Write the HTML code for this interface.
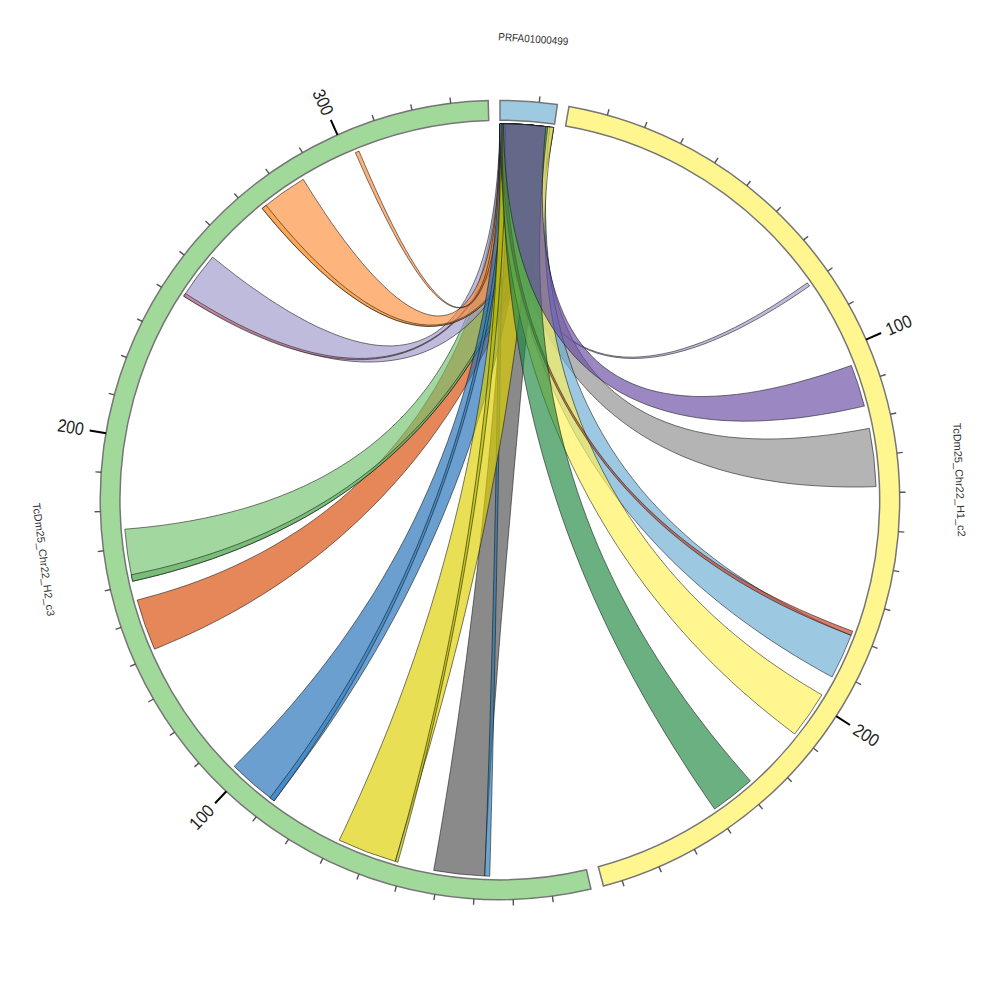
<!DOCTYPE html><html><head><meta charset="utf-8"><title>Circos plot</title><style>html,body{margin:0;padding:0;background:#fff;overflow:hidden;}svg{display:block;}text{font-family:"Liberation Sans","DejaVu Sans",sans-serif;}</style></head><body>
<svg width="1000" height="1000" viewBox="0 0 1000 1000">
<rect width="1000" height="1000" fill="#fff"/>
<g stroke-linejoin="round">
<path d="M500.0,123.7 A376.3,376.3 0 0 1 549.8,127.0 L549.0,132.9 548.1,140.0 547.1,148.3 545.8,157.7 544.2,168.0 542.3,179.2 540.0,191.2 537.3,204.0 534.2,217.3 530.6,231.2 526.6,245.5 522.1,260.2 517.0,275.3 511.5,290.6 505.4,306.1 498.7,321.7 491.5,337.4 483.8,353.1 475.5,368.8 466.7,384.3 457.4,399.7 447.6,414.8 437.3,429.8 426.6,444.4 415.4,458.8 403.8,472.7 391.9,486.3 379.6,499.4 367.0,512.1 354.2,524.3 341.2,536.0 328.1,547.2 314.9,557.8 301.6,567.9 288.4,577.4 275.3,586.4 262.3,594.7 249.6,602.5 237.2,609.7 225.2,616.3 213.7,622.3 202.8,627.8 192.5,632.7 183.0,637.0 174.3,640.8 166.6,644.1 160.0,646.9 154.5,649.2 A376.3,376.3 0 0 1 137.2,600.1 L143.0,598.5 149.9,596.6 157.9,594.4 166.9,591.7 176.7,588.6 187.3,585.1 198.5,581.0 210.2,576.5 222.4,571.4 235.0,565.8 247.8,559.6 260.9,552.9 274.0,545.6 287.1,537.7 300.3,529.3 313.3,520.3 326.1,510.7 338.8,500.6 351.1,489.9 363.1,478.7 374.8,467.1 386.0,454.9 396.8,442.3 407.2,429.3 417.0,415.9 426.2,402.1 435.0,388.1 443.1,373.7 450.7,359.1 457.7,344.4 464.1,329.5 469.9,314.6 475.1,299.7 479.8,284.8 483.9,270.0 487.4,255.4 490.4,241.1 493.0,227.1 495.0,213.5 496.7,200.3 497.9,187.8 498.9,175.9 499.5,164.8 499.8,154.5 500.0,145.1 500.0,136.8 500.0,129.6 500.0,123.7 Z" fill="#da4b08" fill-opacity="0.667" stroke="#111" stroke-opacity="0.85" stroke-width="0.65"/>
<path d="M500.0,123.7 A376.3,376.3 0 0 1 553.7,127.5 L551.6,141.0 549.3,154.5 546.7,168.0 543.9,181.5 540.7,195.0 537.3,208.5 533.5,221.9 529.5,235.2 525.1,248.5 520.5,261.6 515.5,274.6 510.2,287.5 504.5,300.3 498.5,312.8 492.2,325.2 485.6,337.4 478.6,349.4 471.3,361.1 463.7,372.6 455.8,383.9 447.5,395.0 438.9,405.7 430.0,416.2 420.8,426.5 411.3,436.4 401.4,446.1 391.3,455.5 380.9,464.5 370.3,473.3 359.4,481.8 348.2,489.9 336.8,497.7 325.1,505.3 313.2,512.5 301.1,519.4 288.9,525.9 276.4,532.2 263.8,538.2 251.1,543.8 238.2,549.1 225.2,554.1 212.1,558.9 198.9,563.3 185.7,567.4 172.4,571.3 159.1,574.9 145.8,578.2 132.6,581.3 A376.3,376.3 0 0 1 124.8,529.2 L138.3,528.0 151.9,526.6 165.3,524.9 178.8,522.9 192.1,520.6 205.4,518.0 218.5,515.1 231.5,511.9 244.3,508.4 257.0,504.5 269.4,500.3 281.6,495.7 293.6,490.8 305.3,485.5 316.8,479.9 328.0,473.9 338.9,467.5 349.5,460.8 359.7,453.7 369.7,446.3 379.2,438.5 388.5,430.3 397.4,421.8 405.9,413.0 414.1,403.8 421.9,394.2 429.3,384.4 436.3,374.2 443.0,363.7 449.2,353.0 455.1,341.9 460.6,330.5 465.7,318.9 470.4,307.1 474.8,295.0 478.8,282.6 482.4,270.1 485.6,257.4 488.5,244.5 491.1,231.4 493.3,218.2 495.1,204.9 496.7,191.5 497.9,178.0 498.8,164.4 499.5,150.8 499.9,137.3 500.0,123.7 Z" fill="#75c371" fill-opacity="0.667" stroke="#111" stroke-opacity="0.85" stroke-width="0.65"/>
<path d="M549.8,127.0 A376.3,376.3 0 0 1 553.7,127.5 L551.6,141.0 549.3,154.5 546.7,168.0 543.9,181.5 540.7,195.0 537.3,208.5 533.5,221.9 529.5,235.2 525.1,248.5 520.5,261.6 515.5,274.6 510.2,287.5 504.5,300.3 498.5,312.8 492.2,325.2 485.6,337.4 478.6,349.4 471.3,361.1 463.7,372.6 455.8,383.9 447.5,395.0 438.9,405.7 430.0,416.2 420.8,426.5 411.3,436.4 401.4,446.1 391.3,455.5 380.9,464.5 370.3,473.3 359.4,481.8 348.2,489.9 336.8,497.7 325.1,505.3 313.2,512.5 301.1,519.4 288.9,525.9 276.4,532.2 263.8,538.2 251.1,543.8 238.2,549.1 225.2,554.1 212.1,558.9 198.9,563.3 185.7,567.4 172.4,571.3 159.1,574.9 145.8,578.2 132.6,581.3 A376.3,376.3 0 0 1 131.2,574.8 L144.5,571.9 157.8,568.9 171.2,565.5 184.5,561.9 197.7,558.0 210.9,553.8 224.1,549.3 237.1,544.5 250.0,539.4 262.8,534.0 275.4,528.2 287.9,522.2 300.2,515.8 312.2,509.1 324.1,502.1 335.8,494.8 347.2,487.1 358.3,479.1 369.2,470.8 379.9,462.2 390.2,453.3 400.3,444.1 410.0,434.6 419.5,424.8 428.7,414.7 437.5,404.3 446.0,393.6 454.2,382.7 462.1,371.5 469.6,360.1 476.8,348.4 483.7,336.5 490.2,324.4 496.4,312.1 502.3,299.6 507.8,286.9 513.0,274.0 517.9,261.1 522.5,247.9 526.7,234.7 530.6,221.4 534.2,208.0 537.5,194.5 540.5,181.0 543.2,167.5 545.7,154.0 547.9,140.5 549.8,127.0 Z" fill="#63b165" fill-opacity="0.667" stroke="#111" stroke-opacity="0.85" stroke-width="0.65"/>
<path d="M500.0,123.7 A376.3,376.3 0 0 1 553.7,127.5 L551.1,142.3 548.2,156.5 545.2,170.3 542.0,183.5 538.5,196.3 534.8,208.7 530.9,220.5 526.8,231.9 522.4,242.8 517.9,253.2 513.1,263.2 508.1,272.6 502.9,281.6 497.5,290.1 491.8,298.2 485.9,305.7 479.9,312.8 473.6,319.4 467.1,325.6 460.3,331.2 453.4,336.4 446.2,341.1 438.8,345.3 431.2,349.1 423.4,352.4 415.4,355.2 407.1,357.5 398.7,359.3 390.0,360.7 381.1,361.6 372.0,362.0 362.6,362.0 353.1,361.4 343.3,360.4 333.3,358.9 323.1,356.9 312.7,354.5 302.0,351.6 291.2,348.2 280.1,344.3 268.8,340.0 257.3,335.1 245.6,329.8 233.6,324.0 221.5,317.8 209.1,311.1 196.5,303.8 183.7,296.2 A376.3,376.3 0 0 1 212.6,257.1 L224.2,266.4 235.5,275.2 246.6,283.5 257.5,291.2 268.2,298.5 278.6,305.2 288.7,311.4 298.7,317.1 308.3,322.3 317.8,327.0 327.0,331.1 336.0,334.8 344.7,337.9 353.2,340.5 361.4,342.6 369.5,344.2 377.2,345.3 384.8,345.8 392.1,345.9 399.1,345.4 406.0,344.4 412.5,342.9 418.9,340.9 425.0,338.4 430.9,335.4 436.5,331.8 441.9,327.7 447.0,323.2 451.9,318.1 456.6,312.5 461.1,306.4 465.3,299.7 469.2,292.6 472.9,284.9 476.4,276.7 479.7,268.0 482.7,258.8 485.4,249.1 488.0,238.9 490.3,228.2 492.3,216.9 494.1,205.1 495.7,192.8 497.0,180.0 498.1,166.7 499.0,152.9 499.6,138.6 500.0,123.7 Z" fill="#9e99cb" fill-opacity="0.667" stroke="#111" stroke-opacity="0.85" stroke-width="0.65"/>
<path d="M522.1,124.3 A376.3,376.3 0 0 1 524.7,124.5 L524.0,133.8 523.1,143.6 522.0,153.9 520.7,164.5 519.1,175.3 517.3,186.4 515.1,197.5 512.6,208.6 509.7,219.7 506.5,230.7 503.0,241.6 499.1,252.2 494.8,262.5 490.1,272.4 485.0,282.0 479.5,291.2 473.7,299.9 467.4,308.1 460.8,315.8 453.8,322.9 446.4,329.4 438.7,335.3 430.6,340.6 422.1,345.3 413.4,349.3 404.3,352.7 394.9,355.4 385.3,357.4 375.4,358.8 365.3,359.6 355.0,359.7 344.5,359.2 333.9,358.1 323.1,356.5 312.3,354.3 301.5,351.6 290.6,348.5 279.8,344.9 269.1,340.9 258.5,336.5 248.0,331.9 237.8,327.0 227.8,322.0 218.2,316.8 208.9,311.5 200.0,306.3 191.6,301.2 183.7,296.2 A376.3,376.3 0 0 1 185.5,293.4 L193.3,298.5 201.7,303.7 210.5,309.0 219.8,314.3 229.4,319.6 239.3,324.8 249.4,329.7 259.8,334.4 270.3,338.9 281.0,342.9 291.7,346.6 302.5,349.9 313.2,352.7 323.9,354.9 334.6,356.7 345.1,357.8 355.5,358.4 365.7,358.4 375.7,357.7 385.5,356.4 395.0,354.4 404.3,351.8 413.3,348.5 421.9,344.5 430.2,339.9 438.2,334.7 445.9,328.8 453.1,322.4 460.0,315.3 466.6,307.7 472.7,299.5 478.4,290.9 483.8,281.7 488.7,272.2 493.3,262.2 497.5,251.9 501.3,241.3 504.8,230.5 507.9,219.6 510.6,208.5 513.0,197.3 515.1,186.2 516.9,175.2 518.4,164.3 519.6,153.7 520.6,143.5 521.4,133.7 522.1,124.3 Z" fill="#c57189" fill-opacity="0.667" stroke="#111" stroke-opacity="0.85" stroke-width="0.65"/>
<path d="M500.0,123.7 A376.3,376.3 0 0 1 549.8,127.0 L548.4,136.9 546.8,147.2 545.0,157.7 543.0,168.4 540.8,179.2 538.4,190.0 535.7,200.8 532.7,211.4 529.5,221.9 526.0,232.1 522.3,242.0 518.3,251.6 514.0,260.7 509.5,269.4 504.7,277.6 499.7,285.3 494.3,292.3 488.7,298.8 482.9,304.6 476.8,309.8 470.4,314.3 463.9,318.1 457.1,321.2 450.1,323.6 442.8,325.2 435.4,326.1 427.8,326.4 420.1,325.8 412.2,324.6 404.1,322.7 396.0,320.2 387.7,316.9 379.4,313.1 371.0,308.6 362.6,303.6 354.2,298.0 345.8,292.0 337.4,285.5 329.1,278.6 320.9,271.4 312.8,263.9 304.9,256.1 297.1,248.2 289.5,240.1 282.2,232.1 275.2,224.0 268.5,216.1 262.1,208.4 A376.3,376.3 0 0 1 303.2,179.3 L308.5,187.7 314.0,196.5 319.8,205.3 325.7,214.3 331.8,223.2 338.1,232.0 344.5,240.7 351.0,249.2 357.5,257.3 364.0,265.2 370.6,272.6 377.2,279.5 383.7,286.0 390.1,291.9 396.5,297.3 402.8,302.0 408.9,306.1 415.0,309.5 420.9,312.2 426.6,314.2 432.2,315.5 437.5,316.0 442.7,315.7 447.7,314.7 452.5,313.0 457.0,310.5 461.3,307.2 465.4,303.2 469.2,298.5 472.8,293.2 476.2,287.1 479.3,280.4 482.2,273.1 484.9,265.2 487.3,256.8 489.4,247.8 491.4,238.5 493.1,228.7 494.6,218.6 495.9,208.3 496.9,197.7 497.8,186.9 498.6,176.1 499.1,165.3 499.5,154.6 499.8,144.0 500.0,133.7 500.0,123.7 Z" fill="#fc8f3c" fill-opacity="0.667" stroke="#111" stroke-opacity="0.85" stroke-width="0.65"/>
<path d="M545.9,126.5 A376.3,376.3 0 0 1 549.8,127.0 L548.4,136.9 546.8,147.2 545.0,157.7 543.0,168.4 540.8,179.2 538.4,190.0 535.7,200.8 532.7,211.4 529.5,221.9 526.0,232.1 522.3,242.0 518.3,251.6 514.0,260.7 509.5,269.4 504.7,277.6 499.7,285.3 494.3,292.3 488.7,298.8 482.9,304.6 476.8,309.8 470.4,314.3 463.9,318.1 457.1,321.2 450.1,323.6 442.8,325.2 435.4,326.1 427.8,326.4 420.1,325.8 412.2,324.6 404.1,322.7 396.0,320.2 387.7,316.9 379.4,313.1 371.0,308.6 362.6,303.6 354.2,298.0 345.8,292.0 337.4,285.5 329.1,278.6 320.9,271.4 312.8,263.9 304.9,256.1 297.1,248.2 289.5,240.1 282.2,232.1 275.2,224.0 268.5,216.1 262.1,208.4 A376.3,376.3 0 0 1 266.1,205.2 L272.4,213.0 279.0,221.0 285.9,229.1 293.1,237.3 300.5,245.4 308.1,253.5 315.9,261.3 323.8,268.9 331.9,276.3 340.0,283.3 348.2,289.9 356.5,296.0 364.7,301.7 373.0,306.8 381.2,311.3 389.3,315.3 397.4,318.6 405.3,321.3 413.2,323.2 420.9,324.5 428.4,325.1 435.8,325.0 443.0,324.1 450.1,322.6 456.9,320.2 463.5,317.2 469.9,313.5 476.0,309.0 481.9,303.9 487.6,298.1 493.0,291.7 498.1,284.7 503.0,277.0 507.6,268.9 512.0,260.2 516.1,251.1 519.9,241.6 523.5,231.7 526.8,221.4 529.8,211.0 532.6,200.3 535.2,189.6 537.5,178.7 539.6,167.9 541.5,157.2 543.1,146.7 544.6,136.4 545.9,126.5 Z" fill="#fea141" fill-opacity="0.667" stroke="#111" stroke-opacity="0.85" stroke-width="0.65"/>
<path d="M500.0,123.7 A376.3,376.3 0 0 1 503.9,123.7 L503.5,138.1 503.0,152.0 502.4,165.2 501.6,177.9 500.8,190.0 499.8,201.5 498.7,212.4 497.5,222.7 496.2,232.4 494.7,241.5 493.2,250.1 491.5,258.0 489.7,265.4 487.8,272.2 485.8,278.4 483.7,284.0 481.5,289.0 479.1,293.4 476.6,297.3 474.1,300.5 471.4,303.2 468.6,305.2 465.6,306.7 462.6,307.6 459.5,307.9 456.2,307.6 452.8,306.8 449.3,305.3 445.7,303.3 442.0,300.6 438.1,297.4 434.2,293.6 430.1,289.2 425.9,284.2 421.6,278.6 417.2,272.5 412.7,265.7 408.1,258.4 403.3,250.4 398.4,241.9 393.5,232.8 388.4,223.1 383.2,212.8 377.8,202.0 372.4,190.5 366.8,178.5 361.2,165.8 355.4,152.6 A376.3,376.3 0 0 1 359.0,151.1 L364.7,164.4 370.2,177.1 375.6,189.2 380.9,200.7 386.0,211.6 391.1,222.0 396.0,231.7 400.9,240.9 405.6,249.4 410.2,257.4 414.7,264.8 419.0,271.6 423.3,277.8 427.4,283.4 431.5,288.5 435.4,292.9 439.2,296.7 442.8,300.0 446.4,302.7 449.9,304.8 453.2,306.3 456.4,307.2 459.5,307.5 462.5,307.2 465.4,306.3 468.2,304.9 470.8,302.8 473.4,300.2 475.8,297.0 478.1,293.2 480.3,288.8 482.3,283.8 484.3,278.2 486.2,272.0 487.9,265.2 489.5,257.9 491.0,250.0 492.4,241.4 493.7,232.3 494.8,222.6 495.9,212.3 496.8,201.4 497.6,189.9 498.3,177.9 498.9,165.2 499.4,152.0 499.8,138.1 500.0,123.7 Z" fill="#fc8c38" fill-opacity="0.667" stroke="#111" stroke-opacity="0.85" stroke-width="0.65"/>
<path d="M500.0,123.7 A376.3,376.3 0 0 1 532.8,125.1 L531.8,135.9 530.8,147.4 529.7,159.3 528.4,171.8 527.0,184.9 525.5,198.3 523.7,212.2 521.8,226.5 519.6,241.2 517.2,256.1 514.6,271.4 511.7,286.9 508.6,302.7 505.2,318.7 501.6,334.8 497.6,351.1 493.4,367.5 488.9,384.0 484.1,400.5 479.0,417.1 473.7,433.7 468.1,450.2 462.2,466.7 456.0,483.2 449.6,499.5 443.0,515.7 436.1,531.8 429.0,547.7 421.7,563.4 414.2,578.9 406.6,594.2 398.8,609.2 390.8,624.0 382.8,638.4 374.7,652.6 366.5,666.4 358.2,679.9 350.0,693.0 341.7,705.8 333.6,718.1 325.5,730.0 317.5,741.6 309.7,752.6 302.0,763.2 294.6,773.4 287.4,783.1 280.6,792.2 274.1,800.9 A376.3,376.3 0 0 1 234.2,766.4 L241.8,758.7 249.8,750.5 258.1,741.9 266.6,732.8 275.4,723.2 284.3,713.3 293.3,702.9 302.5,692.0 311.6,680.8 320.8,669.2 330.0,657.2 339.2,644.8 348.2,632.0 357.1,619.0 365.9,605.6 374.6,591.9 383.0,577.8 391.2,563.6 399.3,549.0 407.0,534.3 414.5,519.3 421.7,504.1 428.6,488.7 435.2,473.2 441.5,457.6 447.5,441.8 453.1,426.0 458.4,410.1 463.3,394.1 467.9,378.2 472.2,362.3 476.1,346.4 479.7,330.6 482.9,314.9 485.8,299.3 488.4,283.9 490.7,268.7 492.7,253.7 494.4,239.0 495.8,224.5 497.0,210.4 498.0,196.7 498.7,183.3 499.2,170.4 499.6,157.9 499.8,146.0 500.0,134.5 500.0,123.7 Z" fill="#206fb7" fill-opacity="0.667" stroke="#111" stroke-opacity="0.85" stroke-width="0.65"/>
<path d="M505.7,123.7 A376.3,376.3 0 0 1 509.9,123.8 L509.6,133.6 509.2,144.1 508.7,155.3 508.0,167.1 507.2,179.5 506.2,192.5 505.0,206.1 503.5,220.0 501.9,234.5 500.0,249.3 497.9,264.6 495.5,280.1 492.8,296.0 489.8,312.1 486.6,328.5 483.1,345.1 479.2,361.8 475.1,378.7 470.8,395.6 466.1,412.6 461.1,429.7 455.9,446.7 450.4,463.8 444.6,480.7 438.6,497.6 432.3,514.4 425.9,531.0 419.1,547.4 412.2,563.7 405.1,579.7 397.9,595.4 390.5,610.9 383.0,626.1 375.3,640.9 367.6,655.4 359.9,669.5 352.1,683.2 344.3,696.4 336.6,709.3 328.9,721.6 321.3,733.5 313.9,744.8 306.6,755.6 299.5,765.8 292.7,775.5 286.1,784.6 279.9,793.1 274.1,800.9 A376.3,376.3 0 0 1 269.9,797.8 L275.9,790.0 282.2,781.6 288.9,772.6 295.8,763.1 303.0,752.9 310.4,742.2 318.0,731.0 325.7,719.2 333.5,707.0 341.3,694.3 349.2,681.1 357.1,667.5 365.0,653.5 372.8,639.1 380.5,624.4 388.1,609.3 395.5,594.0 402.9,578.3 410.0,562.4 417.0,546.3 423.7,529.9 430.2,513.4 436.5,496.7 442.5,479.9 448.3,463.0 453.8,446.0 459.0,429.1 463.9,412.1 468.5,395.1 472.9,378.2 476.9,361.4 480.6,344.7 484.1,328.2 487.2,311.9 490.1,295.8 492.7,279.9 495.0,264.4 497.0,249.2 498.8,234.4 500.3,219.9 501.6,205.9 502.7,192.4 503.6,179.5 504.3,167.0 504.9,155.2 505.3,144.0 505.5,133.5 505.7,123.7 Z" fill="#3583c5" fill-opacity="0.667" stroke="#111" stroke-opacity="0.85" stroke-width="0.65"/>
<path d="M509.9,123.8 A376.3,376.3 0 0 1 549.8,127.0 L547.4,144.8 545.2,162.3 543.1,179.5 541.1,196.4 539.1,213.2 537.3,229.7 535.5,245.9 533.8,262.0 532.1,277.9 530.5,293.6 528.9,309.1 527.4,324.5 526.0,339.7 524.5,354.8 523.1,369.8 521.8,384.6 520.4,399.4 519.1,414.1 517.8,428.7 516.5,443.2 515.2,457.7 513.9,472.1 512.7,486.6 511.4,501.0 510.2,515.4 508.9,529.8 507.7,544.3 506.4,558.8 505.2,573.3 504.0,587.9 502.8,602.6 501.5,617.4 500.3,632.3 499.1,647.3 497.9,662.4 496.8,677.6 495.6,693.0 494.4,708.6 493.3,724.3 492.2,740.2 491.1,756.4 490.1,772.7 489.1,789.3 488.1,806.1 487.2,823.2 486.3,840.5 485.5,858.1 484.7,876.0 A376.3,376.3 0 0 1 433.7,870.4 L436.8,852.8 439.8,835.4 442.7,818.3 445.4,801.4 448.1,784.8 450.7,768.4 453.1,752.3 455.5,736.3 457.8,720.5 460.0,704.9 462.2,689.5 464.2,674.2 466.3,659.0 468.2,644.0 470.1,629.1 471.9,614.4 473.7,599.7 475.4,585.1 477.1,570.5 478.7,556.0 480.3,541.6 481.9,527.2 483.4,512.8 484.9,498.5 486.3,484.1 487.8,469.7 489.1,455.3 490.5,440.8 491.8,426.3 493.1,411.7 494.4,397.1 495.6,382.3 496.8,367.5 497.9,352.5 499.1,337.4 500.2,322.2 501.2,306.8 502.2,291.3 503.2,275.5 504.1,259.6 505.0,243.5 505.9,227.1 506.7,210.6 507.4,193.8 508.1,176.7 508.8,159.4 509.3,141.7 509.9,123.8 Z" fill="#505050" fill-opacity="0.667" stroke="#111" stroke-opacity="0.85" stroke-width="0.65"/>
<path d="M500.0,123.7 A376.3,376.3 0 0 1 503.3,123.7 L503.2,133.5 503.1,144.1 503.0,155.3 502.9,167.3 502.7,179.9 502.6,193.1 502.4,206.9 502.2,221.3 502.0,236.2 501.8,251.5 501.6,267.4 501.4,283.6 501.2,300.3 500.9,317.3 500.7,334.6 500.4,352.3 500.1,370.1 499.9,388.3 499.6,406.6 499.3,425.1 498.9,443.7 498.6,462.4 498.3,481.2 498.0,500.0 497.6,518.8 497.3,537.5 496.9,556.2 496.6,574.9 496.2,593.3 495.8,611.7 495.5,629.8 495.1,647.7 494.7,665.3 494.4,682.6 494.0,699.6 493.6,716.3 493.3,732.5 492.9,748.4 492.6,763.7 492.2,778.6 491.9,793.0 491.5,806.8 491.2,820.0 490.9,832.6 490.6,844.6 490.3,855.8 490.0,866.4 489.8,876.2 A376.3,376.3 0 0 1 484.7,876.0 L485.1,866.2 485.5,855.7 485.9,844.4 486.4,832.5 486.8,819.9 487.3,806.7 487.7,792.9 488.2,778.5 488.7,763.6 489.2,748.3 489.7,732.4 490.2,716.2 490.6,699.5 491.1,682.5 491.6,665.2 492.1,647.6 492.5,629.7 493.0,611.6 493.4,593.3 493.9,574.8 494.3,556.2 494.7,537.5 495.1,518.7 495.5,499.9 495.9,481.1 496.2,462.3 496.6,443.6 496.9,425.0 497.2,406.5 497.5,388.2 497.8,370.1 498.1,352.2 498.3,334.6 498.5,317.3 498.8,300.3 499.0,283.6 499.1,267.3 499.3,251.5 499.4,236.1 499.6,221.3 499.7,206.9 499.8,193.1 499.8,179.9 499.9,167.3 499.9,155.3 500.0,144.0 500.0,133.5 500.0,123.7 Z" fill="#2678b4" fill-opacity="0.667" stroke="#111" stroke-opacity="0.85" stroke-width="0.65"/>
<path d="M502.0,123.7 A376.3,376.3 0 0 1 539.3,125.8 L538.2,136.6 537.1,148.0 536.0,160.0 534.8,172.6 533.6,185.7 532.3,199.3 530.9,213.4 529.4,227.9 527.9,242.9 526.3,258.2 524.5,273.9 522.6,290.0 520.6,306.3 518.5,322.9 516.3,339.8 513.9,356.8 511.4,374.1 508.7,391.5 506.0,409.1 503.1,426.8 500.0,444.5 496.8,462.4 493.5,480.2 490.1,498.1 486.5,515.9 482.9,533.7 479.1,551.4 475.2,569.0 471.2,586.4 467.2,603.8 463.1,620.9 458.9,637.8 454.6,654.5 450.4,671.0 446.0,687.2 441.7,703.1 437.4,718.6 433.1,733.8 428.9,748.7 424.6,763.1 420.5,777.1 416.5,790.7 412.5,803.8 408.7,816.4 405.1,828.5 401.6,840.0 398.3,851.0 395.3,861.4 A376.3,376.3 0 0 1 339.2,840.2 L343.9,830.4 348.7,820.0 353.7,809.1 358.9,797.7 364.2,785.7 369.6,773.2 375.1,760.3 380.7,747.0 386.3,733.2 391.9,719.0 397.5,704.4 403.0,689.5 408.5,674.3 414.0,658.7 419.3,642.9 424.6,626.8 429.8,610.4 434.8,593.9 439.7,577.1 444.4,560.2 449.0,543.1 453.4,525.9 457.6,508.6 461.7,491.3 465.5,473.9 469.2,456.5 472.6,439.1 475.9,421.7 478.9,404.4 481.7,387.2 484.4,370.1 486.8,353.1 489.0,336.3 491.0,319.7 492.8,303.3 494.4,287.2 495.8,271.3 497.1,255.8 498.1,240.6 499.1,225.7 499.8,211.3 500.4,197.3 500.9,183.7 501.3,170.6 501.6,158.0 501.8,146.0 501.9,134.6 502.0,123.7 Z" fill="#ddcf00" fill-opacity="0.667" stroke="#111" stroke-opacity="0.85" stroke-width="0.65"/>
<path d="M500.6,123.7 A376.3,376.3 0 0 1 507.2,123.8 L507.0,133.9 506.7,144.8 506.4,156.3 506.0,168.4 505.6,181.2 505.1,194.5 504.5,208.4 503.7,222.7 502.9,237.6 502.0,252.9 501.0,268.6 499.8,284.7 498.6,301.2 497.2,317.9 495.7,335.0 494.0,352.3 492.2,369.9 490.3,387.6 488.3,405.5 486.1,423.6 483.9,441.7 481.5,459.9 478.9,478.2 476.3,496.5 473.5,514.8 470.6,533.0 467.7,551.1 464.6,569.1 461.4,587.0 458.2,604.8 454.9,622.3 451.5,639.6 448.0,656.7 444.6,673.4 441.0,689.9 437.5,706.0 433.9,721.7 430.3,737.1 426.8,752.0 423.3,766.4 419.8,780.4 416.3,793.9 413.0,806.8 409.7,819.1 406.5,830.8 403.5,842.0 400.6,852.4 397.9,862.2 A376.3,376.3 0 0 1 395.3,861.4 L398.1,851.7 401.0,841.3 404.1,830.2 407.4,818.5 410.7,806.1 414.1,793.2 417.6,779.8 421.1,765.9 424.7,751.4 428.2,736.5 431.8,721.2 435.4,705.5 438.9,689.4 442.5,673.0 445.9,656.2 449.3,639.2 452.7,621.9 456.0,604.4 459.2,586.7 462.3,568.8 465.3,550.8 468.2,532.7 471.0,514.5 473.6,496.2 476.2,478.0 478.6,459.7 480.9,441.5 483.0,423.4 485.1,405.3 486.9,387.5 488.7,369.7 490.3,352.2 491.8,334.9 493.2,317.8 494.4,301.1 495.5,284.6 496.4,268.5 497.3,252.8 498.0,237.5 498.6,222.7 499.2,208.3 499.6,194.4 499.9,181.1 500.2,168.4 500.4,156.2 500.5,144.7 500.6,133.8 500.6,123.7 Z" fill="#b4bc00" fill-opacity="0.667" stroke="#111" stroke-opacity="0.85" stroke-width="0.65"/>
<path d="M500.0,123.7 A376.3,376.3 0 0 1 503.3,123.7 L503.2,132.7 503.3,142.4 503.5,152.5 503.9,163.1 504.5,174.0 505.3,185.1 506.4,196.4 507.8,207.8 509.5,219.1 511.5,230.3 513.9,241.4 516.6,252.2 519.7,262.7 523.2,272.9 527.2,282.7 531.5,292.0 536.2,300.8 541.4,309.0 546.9,316.7 552.9,323.8 559.3,330.2 566.1,336.0 573.3,341.1 580.8,345.5 588.8,349.2 597.1,352.2 605.7,354.5 614.6,356.1 623.8,357.0 633.3,357.2 643.0,356.7 653.0,355.6 663.1,353.8 673.4,351.5 683.7,348.5 694.1,345.1 704.6,341.2 715.0,336.8 725.4,332.1 735.7,327.0 745.8,321.7 755.7,316.2 765.3,310.5 774.6,304.8 783.5,299.0 792.0,293.4 799.9,288.0 807.3,282.8 A376.3,376.3 0 0 1 809.5,286.0 L802.1,291.1 794.1,296.4 785.5,302.0 776.6,307.6 767.2,313.2 757.5,318.8 747.5,324.2 737.3,329.5 727.0,334.4 716.5,339.0 706.0,343.3 695.4,347.1 684.9,350.4 674.4,353.2 664.0,355.5 653.8,357.1 643.7,358.1 633.9,358.5 624.3,358.2 614.9,357.2 605.8,355.6 597.1,353.2 588.7,350.1 580.6,346.3 572.9,341.8 565.6,336.6 558.6,330.8 552.1,324.3 546.0,317.2 540.3,309.4 535.0,301.1 530.1,292.2 525.6,282.9 521.6,273.1 517.9,262.9 514.7,252.3 511.8,241.5 509.3,230.4 507.1,219.1 505.3,207.8 503.8,196.4 502.6,185.2 501.7,174.0 501.0,163.1 500.5,152.5 500.2,142.3 500.0,132.7 500.0,123.7 Z" fill="#9e99cb" fill-opacity="0.667" stroke="#111" stroke-opacity="0.85" stroke-width="0.65"/>
<path d="M503.3,123.7 A376.3,376.3 0 0 1 549.8,127.0 L548.1,140.9 546.7,154.7 545.6,168.2 544.8,181.5 544.4,194.7 544.3,207.6 544.6,220.2 545.3,232.6 546.3,244.7 547.6,256.5 549.4,268.0 551.5,279.2 554.0,290.1 556.9,300.7 560.2,310.9 563.9,320.7 568.0,330.2 572.4,339.4 577.3,348.1 582.5,356.5 588.2,364.5 594.2,372.1 600.6,379.2 607.4,386.0 614.6,392.4 622.2,398.4 630.1,404.0 638.4,409.1 647.1,413.9 656.1,418.2 665.5,422.1 675.2,425.6 685.2,428.7 695.6,431.4 706.3,433.6 717.3,435.5 728.6,437.0 740.2,438.0 752.1,438.7 764.3,439.0 776.7,438.9 789.3,438.5 802.2,437.6 815.2,436.4 828.5,434.9 842.0,433.0 855.6,430.8 869.4,428.3 A376.3,376.3 0 0 1 876.1,486.6 L862.0,487.0 848.1,487.0 834.3,486.7 820.6,486.1 807.1,485.2 793.8,484.0 780.7,482.4 767.8,480.4 755.1,478.2 742.6,475.5 730.3,472.5 718.3,469.2 706.6,465.4 695.2,461.3 684.0,456.9 673.1,452.0 662.5,446.8 652.2,441.3 642.2,435.3 632.5,429.0 623.2,422.3 614.2,415.3 605.5,407.9 597.2,400.1 589.2,392.0 581.6,383.6 574.3,374.8 567.4,365.6 560.8,356.1 554.6,346.3 548.8,336.2 543.3,325.7 538.2,314.9 533.4,303.9 529.0,292.5 525.0,280.9 521.3,269.0 518.0,256.8 515.0,244.4 512.3,231.8 510.1,218.9 508.1,205.9 506.5,192.6 505.2,179.1 504.3,165.5 503.6,151.7 503.3,137.8 503.3,123.7 Z" fill="#8f8f8f" fill-opacity="0.667" stroke="#111" stroke-opacity="0.85" stroke-width="0.65"/>
<path d="M500.0,123.7 A376.3,376.3 0 0 1 549.8,127.0 L548.2,142.2 547.0,157.2 546.2,172.1 545.7,186.7 545.5,201.1 545.6,215.4 546.1,229.4 546.8,243.2 548.0,256.9 549.4,270.3 551.2,283.6 553.4,296.6 555.8,309.5 558.6,322.1 561.7,334.6 565.2,346.9 569.0,358.9 573.1,370.8 577.5,382.5 582.3,393.9 587.4,405.2 592.9,416.3 598.7,427.2 604.8,437.9 611.2,448.4 618.0,458.7 625.1,468.8 632.6,478.7 640.3,488.4 648.4,497.9 656.9,507.2 665.6,516.3 674.7,525.2 684.2,533.9 693.9,542.5 704.0,550.8 714.5,558.9 725.2,566.9 736.3,574.6 747.7,582.1 759.5,589.5 771.6,596.6 784.0,603.6 796.8,610.3 809.9,616.9 823.3,623.2 837.0,629.4 851.1,635.3 A376.3,376.3 0 0 1 832.1,677.0 L818.5,669.5 805.2,661.8 792.1,653.9 779.4,645.9 766.9,637.7 754.8,629.3 742.9,620.8 731.3,612.1 719.9,603.2 708.9,594.1 698.1,584.9 687.7,575.5 677.5,566.0 667.6,556.2 658.0,546.3 648.6,536.2 639.6,526.0 630.8,515.6 622.3,505.0 614.1,494.2 606.2,483.3 598.6,472.2 591.2,460.9 584.2,449.5 577.4,437.9 570.9,426.1 564.7,414.1 558.8,402.0 553.1,389.7 547.8,377.2 542.7,364.6 537.9,351.8 533.4,338.8 529.2,325.7 525.3,312.4 521.6,298.9 518.3,285.2 515.2,271.4 512.4,257.4 509.9,243.2 507.6,228.9 505.7,214.4 504.0,199.7 502.7,184.8 501.6,169.8 500.8,154.6 500.2,139.2 500.0,123.7 Z" fill="#6cadd4" fill-opacity="0.667" stroke="#111" stroke-opacity="0.85" stroke-width="0.65"/>
<path d="M502.0,123.7 A376.3,376.3 0 0 1 553.7,127.5 L552.8,133.4 551.7,140.5 550.5,148.8 549.3,158.1 548.1,168.4 547.0,179.6 546.1,191.7 545.4,204.5 545.0,217.9 544.9,232.0 545.2,246.5 545.9,261.6 547.0,277.0 548.6,292.7 550.7,308.7 553.4,324.9 556.6,341.3 560.3,357.7 564.7,374.2 569.6,390.6 575.1,407.0 581.1,423.2 587.7,439.3 594.9,455.1 602.6,470.8 610.8,486.1 619.5,501.1 628.7,515.7 638.3,529.9 648.3,543.7 658.6,557.0 669.2,569.9 680.0,582.2 691.0,594.0 702.2,605.2 713.4,615.9 724.5,626.0 735.6,635.4 746.6,644.3 757.2,652.5 767.5,660.1 777.4,667.0 786.8,673.3 795.5,678.9 803.5,683.9 810.6,688.2 816.8,691.9 821.9,694.9 A376.3,376.3 0 0 1 794.7,734.0 L790.0,730.4 784.3,726.0 777.7,720.8 770.2,714.9 762.1,708.3 753.3,700.9 744.0,692.9 734.2,684.1 724.1,674.6 713.6,664.5 703.0,653.7 692.2,642.3 681.3,630.2 670.4,617.6 659.6,604.4 648.8,590.7 638.2,576.4 627.9,561.7 617.7,546.6 607.9,531.0 598.4,515.1 589.2,498.8 580.5,482.2 572.1,465.4 564.2,448.4 556.8,431.2 549.8,413.9 543.3,396.5 537.4,379.0 531.9,361.7 526.9,344.3 522.5,327.2 518.5,310.2 515.0,293.5 512.0,277.1 509.4,261.1 507.2,245.5 505.5,230.4 504.1,216.0 503.1,202.1 502.4,189.0 501.9,176.7 501.7,165.2 501.6,154.7 501.6,145.2 501.8,136.8 501.9,129.6 502.0,123.7 Z" fill="#fff257" fill-opacity="0.667" stroke="#111" stroke-opacity="0.85" stroke-width="0.65"/>
<path d="M502.1,123.7 A376.3,376.3 0 0 1 505.6,123.7 L505.5,134.2 505.5,145.2 505.7,156.8 506.1,168.8 506.6,181.3 507.5,194.1 508.6,207.2 510.0,220.6 511.8,234.2 513.9,248.0 516.4,262.0 519.3,276.0 522.7,290.1 526.4,304.2 530.6,318.3 535.3,332.3 540.4,346.3 546.0,360.1 552.0,373.8 558.5,387.3 565.4,400.6 572.8,413.7 580.7,426.6 589.0,439.1 597.7,451.4 606.8,463.4 616.3,475.1 626.2,486.4 636.5,497.3 647.0,507.9 657.9,518.1 669.1,527.9 680.5,537.4 692.1,546.4 703.9,555.0 715.8,563.2 727.8,571.0 739.9,578.4 752.0,585.4 764.0,592.0 776.0,598.2 787.8,604.0 799.4,609.4 810.8,614.4 821.9,619.1 832.6,623.5 842.9,627.5 852.7,631.2 A376.3,376.3 0 0 1 851.1,635.3 L841.4,631.5 831.1,627.4 820.5,622.9 809.4,618.1 798.1,612.9 786.5,607.4 774.7,601.5 762.7,595.1 750.7,588.4 738.6,581.3 726.6,573.7 714.6,565.8 702.7,557.5 690.9,548.7 679.3,539.5 667.9,530.0 656.7,520.0 645.8,509.7 635.3,499.0 625.0,487.9 615.1,476.5 605.5,464.7 596.3,452.6 587.6,440.3 579.2,427.6 571.3,414.6 563.9,401.4 556.9,388.0 550.3,374.4 544.2,360.7 538.5,346.8 533.3,332.7 528.6,318.6 524.3,304.5 520.5,290.3 517.0,276.2 514.0,262.1 511.4,248.2 509.2,234.3 507.3,220.7 505.8,207.3 504.5,194.1 503.6,181.3 502.9,168.8 502.5,156.8 502.2,145.2 502.1,134.2 502.1,123.7 Z" fill="#c64124" fill-opacity="0.667" stroke="#111" stroke-opacity="0.85" stroke-width="0.65"/>
<path d="M502.0,123.7 A376.3,376.3 0 0 1 547.8,126.8 L546.0,141.9 544.4,156.9 543.0,172.0 541.8,187.1 540.9,202.1 540.3,217.0 539.8,232.0 539.6,246.9 539.7,261.7 540.0,276.6 540.6,291.3 541.5,306.0 542.6,320.7 544.0,335.3 545.6,349.8 547.5,364.3 549.7,378.7 552.2,393.0 555.0,407.3 558.0,421.5 561.3,435.6 564.9,449.6 568.8,463.6 572.9,477.4 577.3,491.2 582.0,504.9 587.0,518.5 592.2,532.0 597.7,545.4 603.5,558.7 609.6,571.9 615.9,585.1 622.5,598.1 629.4,611.0 636.5,623.8 643.8,636.6 651.5,649.2 659.3,661.7 667.4,674.1 675.8,686.4 684.3,698.6 693.1,710.7 702.2,722.6 711.4,734.5 720.9,746.3 730.5,757.9 740.4,769.4 750.4,780.9 A376.3,376.3 0 0 1 714.6,809.1 L706.0,796.6 697.4,783.9 689.0,771.2 680.8,758.3 672.6,745.4 664.6,732.4 656.8,719.3 649.1,706.2 641.6,692.9 634.2,679.6 627.0,666.1 620.0,652.6 613.2,639.0 606.5,625.3 600.1,611.5 593.8,597.7 587.8,583.8 581.9,569.7 576.3,555.7 570.8,541.5 565.6,527.3 560.6,513.0 555.8,498.6 551.2,484.1 546.8,469.6 542.6,455.0 538.7,440.4 534.9,425.7 531.4,410.9 528.1,396.1 525.0,381.3 522.1,366.4 519.4,351.4 516.9,336.4 514.6,321.3 512.6,306.3 510.7,291.2 509.0,276.0 507.5,260.8 506.2,245.6 505.1,230.4 504.2,215.2 503.4,200.0 502.8,184.7 502.4,169.5 502.1,154.2 502.0,138.9 502.0,123.7 Z" fill="#218942" fill-opacity="0.667" stroke="#111" stroke-opacity="0.85" stroke-width="0.65"/>
<path d="M503.3,123.7 A376.3,376.3 0 0 1 545.9,126.5 L544.5,141.4 543.5,155.8 542.8,169.8 542.4,183.4 542.3,196.6 542.6,209.4 543.2,221.7 544.2,233.6 545.4,245.1 547.0,256.2 549.0,266.8 551.2,277.1 553.8,286.9 556.7,296.3 560.0,305.2 563.5,313.8 567.4,321.9 571.7,329.6 576.2,336.9 581.1,343.8 586.3,350.2 591.9,356.3 597.7,361.9 603.9,367.1 610.5,371.8 617.3,376.2 624.5,380.1 632.0,383.6 639.9,386.7 648.0,389.4 656.5,391.6 665.4,393.4 674.5,394.8 684.0,395.8 693.8,396.4 704.0,396.5 714.5,396.2 725.3,395.5 736.4,394.4 747.9,392.9 759.7,390.9 771.8,388.5 784.2,385.7 797.0,382.5 810.1,378.8 823.5,374.8 837.3,370.3 851.4,365.4 A376.3,376.3 0 0 1 864.4,406.1 L849.7,409.3 835.4,412.2 821.4,414.6 807.6,416.7 794.2,418.4 781.1,419.6 768.2,420.5 755.7,421.1 743.5,421.2 731.6,420.9 720.0,420.3 708.6,419.2 697.6,417.8 686.9,416.0 676.5,413.8 666.4,411.2 656.6,408.2 647.1,404.9 637.9,401.1 629.1,397.0 620.5,392.5 612.2,387.5 604.2,382.2 596.5,376.5 589.2,370.5 582.1,364.0 575.3,357.2 568.9,349.9 562.7,342.3 556.9,334.3 551.3,325.9 546.1,317.1 541.1,307.9 536.5,298.3 532.1,288.4 528.1,278.0 524.4,267.3 520.9,256.2 517.8,244.7 515.0,232.8 512.4,220.5 510.2,207.9 508.3,194.8 506.7,181.4 505.4,167.5 504.4,153.3 503.7,138.7 503.3,123.7 Z" fill="#694da5" fill-opacity="0.667" stroke="#111" stroke-opacity="0.85" stroke-width="0.65"/>
</g>
<path d="M500.0,100.4 A399.6,399.6 0 0 1 557.4,104.5 L554.6,124.1 A379.8,379.8 0 0 0 500.0,120.2 Z" fill="#9ecae1" stroke="#767676" stroke-width="1.5" stroke-linejoin="miter"/>
<path d="M569.0,106.4 A399.6,399.6 0 0 1 603.5,886.0 L598.3,866.8 A379.8,379.8 0 0 0 565.6,125.9 Z" fill="#fff68f" stroke="#767676" stroke-width="1.5" stroke-linejoin="miter"/>
<path d="M591.0,889.1 A399.6,399.6 0 1 1 488.2,100.6 L488.7,120.4 A379.8,379.8 0 1 0 586.5,869.8 Z" fill="#a1d99b" stroke="#767676" stroke-width="1.5" stroke-linejoin="miter"/>
<line x1="539.3" y1="102.3" x2="539.9" y2="96.4" stroke="#555" stroke-width="1.4"/>
<line x1="607.4" y1="115.1" x2="609.0" y2="109.3" stroke="#555" stroke-width="1.4"/>
<line x1="644.7" y1="127.5" x2="646.9" y2="121.9" stroke="#555" stroke-width="1.4"/>
<line x1="680.6" y1="143.5" x2="683.3" y2="138.2" stroke="#555" stroke-width="1.4"/>
<line x1="714.7" y1="163.0" x2="718.0" y2="157.9" stroke="#555" stroke-width="1.4"/>
<line x1="746.8" y1="185.7" x2="750.5" y2="181.0" stroke="#555" stroke-width="1.4"/>
<line x1="776.5" y1="211.5" x2="780.7" y2="207.2" stroke="#555" stroke-width="1.4"/>
<line x1="803.5" y1="240.1" x2="808.1" y2="236.2" stroke="#555" stroke-width="1.4"/>
<line x1="827.6" y1="271.2" x2="832.5" y2="267.7" stroke="#555" stroke-width="1.4"/>
<line x1="848.5" y1="304.4" x2="853.7" y2="301.5" stroke="#555" stroke-width="1.4"/>
<line x1="866.0" y1="339.6" x2="881.1" y2="333.0" stroke="#000" stroke-width="2"/>
<line x1="880.0" y1="376.4" x2="885.7" y2="374.5" stroke="#555" stroke-width="1.4"/>
<line x1="890.3" y1="414.3" x2="896.2" y2="413.0" stroke="#555" stroke-width="1.4"/>
<line x1="896.8" y1="453.1" x2="902.8" y2="452.4" stroke="#555" stroke-width="1.4"/>
<line x1="899.5" y1="492.3" x2="905.5" y2="492.2" stroke="#555" stroke-width="1.4"/>
<line x1="898.3" y1="531.6" x2="904.3" y2="532.1" stroke="#555" stroke-width="1.4"/>
<line x1="893.3" y1="570.6" x2="899.2" y2="571.6" stroke="#555" stroke-width="1.4"/>
<line x1="884.5" y1="608.9" x2="890.3" y2="610.5" stroke="#555" stroke-width="1.4"/>
<line x1="871.9" y1="646.1" x2="877.5" y2="648.3" stroke="#555" stroke-width="1.4"/>
<line x1="855.8" y1="682.0" x2="861.1" y2="684.7" stroke="#555" stroke-width="1.4"/>
<line x1="836.2" y1="716.1" x2="850.0" y2="725.0" stroke="#000" stroke-width="2"/>
<line x1="813.3" y1="748.0" x2="818.0" y2="751.8" stroke="#555" stroke-width="1.4"/>
<line x1="787.4" y1="777.6" x2="791.7" y2="781.8" stroke="#555" stroke-width="1.4"/>
<line x1="758.7" y1="804.5" x2="762.6" y2="809.1" stroke="#555" stroke-width="1.4"/>
<line x1="727.6" y1="828.5" x2="731.0" y2="833.4" stroke="#555" stroke-width="1.4"/>
<line x1="694.2" y1="849.2" x2="697.1" y2="854.5" stroke="#555" stroke-width="1.4"/>
<line x1="658.9" y1="866.6" x2="661.3" y2="872.1" stroke="#555" stroke-width="1.4"/>
<line x1="622.1" y1="880.5" x2="624.0" y2="886.2" stroke="#555" stroke-width="1.4"/>
<line x1="552.4" y1="896.2" x2="553.2" y2="902.1" stroke="#555" stroke-width="1.4"/>
<line x1="513.2" y1="899.4" x2="513.4" y2="905.4" stroke="#555" stroke-width="1.4"/>
<line x1="473.9" y1="898.7" x2="473.5" y2="904.7" stroke="#555" stroke-width="1.4"/>
<line x1="434.8" y1="894.3" x2="433.9" y2="900.2" stroke="#555" stroke-width="1.4"/>
<line x1="396.4" y1="885.9" x2="394.9" y2="891.7" stroke="#555" stroke-width="1.4"/>
<line x1="359.0" y1="873.9" x2="356.9" y2="879.5" stroke="#555" stroke-width="1.4"/>
<line x1="322.9" y1="858.2" x2="320.3" y2="863.6" stroke="#555" stroke-width="1.4"/>
<line x1="288.6" y1="839.1" x2="285.4" y2="844.2" stroke="#555" stroke-width="1.4"/>
<line x1="256.3" y1="816.7" x2="252.6" y2="821.4" stroke="#555" stroke-width="1.4"/>
<line x1="226.4" y1="791.2" x2="215.1" y2="803.2" stroke="#000" stroke-width="2"/>
<line x1="199.1" y1="762.9" x2="194.5" y2="766.9" stroke="#555" stroke-width="1.4"/>
<line x1="174.7" y1="732.1" x2="169.8" y2="735.5" stroke="#555" stroke-width="1.4"/>
<line x1="153.5" y1="699.0" x2="148.3" y2="702.0" stroke="#555" stroke-width="1.4"/>
<line x1="135.6" y1="664.0" x2="130.1" y2="666.4" stroke="#555" stroke-width="1.4"/>
<line x1="121.2" y1="627.4" x2="115.6" y2="629.3" stroke="#555" stroke-width="1.4"/>
<line x1="110.6" y1="589.5" x2="104.7" y2="590.9" stroke="#555" stroke-width="1.4"/>
<line x1="103.6" y1="550.8" x2="97.7" y2="551.6" stroke="#555" stroke-width="1.4"/>
<line x1="100.6" y1="511.6" x2="94.6" y2="511.8" stroke="#555" stroke-width="1.4"/>
<line x1="101.4" y1="472.3" x2="95.4" y2="471.9" stroke="#555" stroke-width="1.4"/>
<line x1="106.0" y1="433.3" x2="89.7" y2="430.5" stroke="#000" stroke-width="2"/>
<line x1="114.5" y1="394.9" x2="108.7" y2="393.3" stroke="#555" stroke-width="1.4"/>
<line x1="126.7" y1="357.5" x2="121.1" y2="355.4" stroke="#555" stroke-width="1.4"/>
<line x1="142.5" y1="321.5" x2="137.1" y2="318.9" stroke="#555" stroke-width="1.4"/>
<line x1="161.7" y1="287.3" x2="156.7" y2="284.1" stroke="#555" stroke-width="1.4"/>
<line x1="184.3" y1="255.1" x2="179.5" y2="251.4" stroke="#555" stroke-width="1.4"/>
<line x1="209.9" y1="225.2" x2="205.5" y2="221.1" stroke="#555" stroke-width="1.4"/>
<line x1="238.3" y1="198.0" x2="234.3" y2="193.5" stroke="#555" stroke-width="1.4"/>
<line x1="269.2" y1="173.8" x2="265.7" y2="168.9" stroke="#555" stroke-width="1.4"/>
<line x1="302.4" y1="152.7" x2="299.4" y2="147.5" stroke="#555" stroke-width="1.4"/>
<line x1="337.5" y1="134.9" x2="330.8" y2="119.9" stroke="#000" stroke-width="2"/>
<line x1="374.1" y1="120.7" x2="372.2" y2="115.0" stroke="#555" stroke-width="1.4"/>
<line x1="412.0" y1="110.2" x2="410.7" y2="104.4" stroke="#555" stroke-width="1.4"/>
<line x1="450.7" y1="103.4" x2="450.0" y2="97.5" stroke="#555" stroke-width="1.4"/>
<text x="886.6" y="330.6" transform="rotate(-23.7 886.6 330.6)" text-anchor="start" dominant-baseline="central" font-size="18" textLength="26.5" lengthAdjust="spacingAndGlyphs" fill="#222">100</text>
<text x="855.1" y="728.2" transform="rotate(32.7 855.1 728.2)" text-anchor="start" dominant-baseline="central" font-size="18" textLength="26.5" lengthAdjust="spacingAndGlyphs" fill="#222">200</text>
<text x="210.9" y="807.6" transform="rotate(-46.8 210.9 807.6)" text-anchor="end" dominant-baseline="central" font-size="18" textLength="26.5" lengthAdjust="spacingAndGlyphs" fill="#222">100</text>
<text x="83.8" y="429.5" transform="rotate(9.6 83.8 429.5)" text-anchor="end" dominant-baseline="central" font-size="18" textLength="26.5" lengthAdjust="spacingAndGlyphs" fill="#222">200</text>
<text x="328.3" y="114.4" transform="rotate(66.0 328.3 114.4)" text-anchor="end" dominant-baseline="central" font-size="18" textLength="26.5" lengthAdjust="spacingAndGlyphs" fill="#222">300</text>
<text x="533.3" y="38.7" transform="rotate(4.1 533.3 38.7)" text-anchor="middle" dominant-baseline="central" font-size="10.8" textLength="70" lengthAdjust="spacingAndGlyphs" fill="#333">PRFA01000499</text>
<text x="959.6" y="479.7" transform="rotate(87.5 959.6 479.7)" text-anchor="middle" dominant-baseline="central" font-size="10.8" textLength="114" lengthAdjust="spacingAndGlyphs" fill="#333">TcDm25_Chr22_H1_c2</text>
<text x="43.9" y="559.5" transform="rotate(82.6 43.9 559.5)" text-anchor="middle" dominant-baseline="central" font-size="10.8" textLength="114" lengthAdjust="spacingAndGlyphs" fill="#333">TcDm25_Chr22_H2_c3</text>
</svg></body></html>
